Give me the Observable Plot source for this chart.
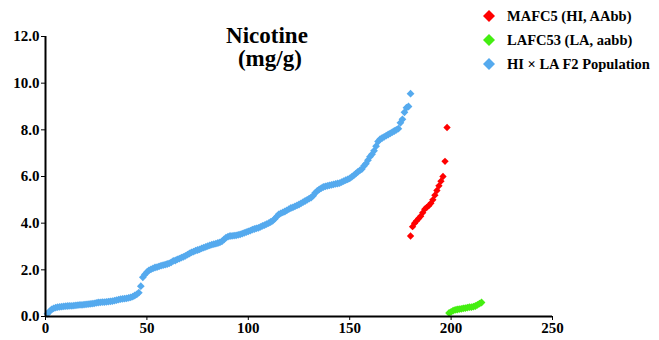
<!DOCTYPE html>
<html>
<head>
<meta charset="utf-8">
<script src="https://cdn.jsdelivr.net/npm/d3@7"></script>
<script src="https://cdn.jsdelivr.net/npm/@observablehq/plot@0.6"></script>
<style>
  html, body { margin: 0; padding: 0; background: #fff; }
  #wrap { position: relative; width: 659px; height: 340px; font-family: "Liberation Serif", "Times New Roman", serif; font-weight: bold; }
  #title { position: absolute; left: 197px; top: 24px; width: 140px; text-align: center; font-size: 23px; line-height: 23px; color: #000; }
  #legend { position: absolute; left: 482px; top: 4px; font-size: 14.5px; color: #000; }
  .row { display: flex; align-items: center; height: 24px; }
  .row svg { margin-right: 11px; }
</style>
</head>
<body>
<div id="wrap">
  <div id="chart"></div>
  <div id="title">Nicotine<br>&nbsp;(mg/g)</div>
  <div id="legend"></div>
</div>
<script>
// F2 population (blue), ranked
const f2X = d3.range(1, 181);
const f2Y = [
  0.12,0.22,0.30,0.35,0.38,0.40,0.41,0.42,0.43,0.44,
  0.45,0.46,0.46,0.47,0.48,0.49,0.50,0.50,0.51,0.52,
  0.53,0.54,0.55,0.56,0.58,0.60,0.61,0.62,0.62,0.63,
  0.64,0.65,0.66,0.68,0.70,0.72,0.74,0.76,0.77,0.78,
  0.80,0.82,0.85,0.90,0.95,1.02,1.30,1.68,1.80,1.90,
  1.98,2.02,2.06,2.10,2.12,2.15,2.18,2.20,2.22,2.25,
  2.28,2.32,2.38,2.40,2.45,2.48,2.52,2.56,2.60,2.65,
  2.70,2.75,2.78,2.82,2.85,2.88,2.92,2.95,2.98,3.02,
  3.05,3.08,3.10,3.12,3.15,3.18,3.22,3.30,3.38,3.42,
  3.45,3.46,3.47,3.48,3.50,3.52,3.55,3.58,3.62,3.65,
  3.68,3.72,3.75,3.78,3.80,3.84,3.88,3.92,3.96,4.00,
  4.05,4.10,4.18,4.28,4.38,4.42,4.46,4.50,4.55,4.60,
  4.65,4.68,4.72,4.76,4.80,4.85,4.90,4.95,5.00,5.05,
  5.10,5.18,5.30,5.38,5.45,5.50,5.55,5.58,5.60,5.62,
  5.64,5.66,5.68,5.70,5.72,5.76,5.80,5.84,5.88,5.92,
  5.98,6.05,6.12,6.20,6.26,6.32,6.45,6.55,6.70,6.85,
  6.95,7.10,7.30,7.50,7.60,7.65,7.70,7.75,7.80,7.85,
  7.90,7.95,8.00,8.05,8.30,8.45,8.75,8.95,9.00,9.55
];
// MAFC5 parent (red)
const hiX = d3.range(180, 199);
const hiY = [3.45,3.85,4.00,4.10,4.20,4.30,4.45,4.60,4.68,4.75,4.85,5.00,5.20,5.40,5.60,5.80,6.00,6.65,8.10];
// LAFC53 parent (green)
const laX = d3.range(199, 216);
const laY = [0.15,0.20,0.25,0.28,0.30,0.32,0.33,0.35,0.36,0.38,0.40,0.40,0.42,0.45,0.50,0.55,0.60];

const xTicks = [0, 50, 100, 150, 200, 250];
const yTicks = [0, 2, 4, 6, 8, 10, 12];

const seriesNames = ["MAFC5 (HI, AAbb)", "LAFC53 (LA, aabb)", "HI × LA F2 Population"];
const seriesColors = ["#ff0000", "#44ee11", "#55aaee"];

const f2 = f2X.map((x, i) => ({x, y: f2Y[i]}));
const hi = hiX.map((x, i) => ({x, y: hiY[i]}));
const la = laX.map((x, i) => ({x, y: laY[i]}));

const chart = Plot.plot({
  width: 659,
  height: 340,
  marginLeft: 45,
  marginRight: 107,
  marginTop: 36,
  marginBottom: 24,
  style: { fontFamily: "'Liberation Serif', 'Times New Roman', serif", fontWeight: "bold", fontSize: "15px", color: "#000", background: "#fff" },
  x: { domain: [0, 250], ticks: xTicks, tickSize: 4, tickPadding: 2, label: null },
  y: { domain: [0, 12], ticks: yTicks, tickSize: 4, tickPadding: 2, tickFormat: d => d.toFixed(1), label: null },
  marks: [
    Plot.dot(f2, {x: "x", y: "y", symbol: "diamond2", r: 3.5, fill: seriesColors[2], stroke: null}),
    Plot.dot(hi, {x: "x", y: "y", symbol: "diamond2", r: 3.3, fill: seriesColors[0], stroke: null}),
    Plot.dot(la, {x: "x", y: "y", symbol: "diamond2", r: 3.5, fill: seriesColors[1], stroke: null}),
    Plot.ruleY([0], {stroke: "#000", strokeWidth: 2}),
    Plot.ruleX([0], {stroke: "#000", strokeWidth: 2})
  ]
});
document.getElementById("chart").appendChild(chart);

const legend = document.getElementById("legend");
seriesNames.forEach((name, i) => {
  const row = document.createElement("div");
  row.className = "row";
  row.innerHTML = `<svg width="14" height="14"><path d="M7 1 L13 7 L7 13 L1 7 Z" fill="${seriesColors[i]}"/></svg><span>${name}</span>`;
  legend.appendChild(row);
});
</script>
</body>
</html>
